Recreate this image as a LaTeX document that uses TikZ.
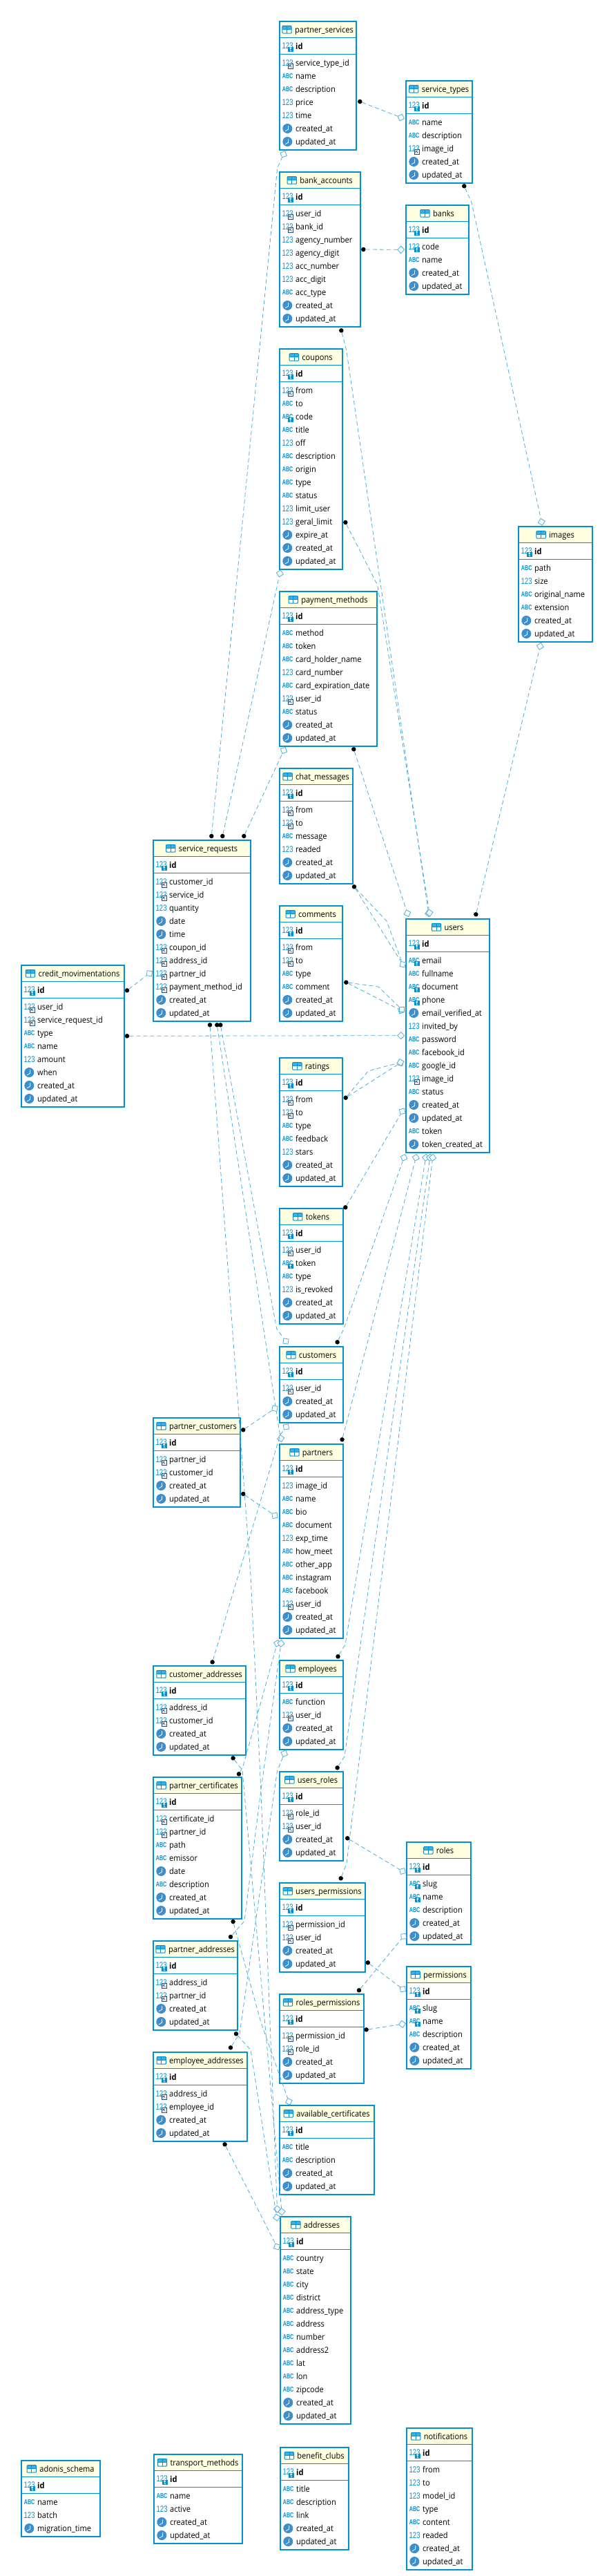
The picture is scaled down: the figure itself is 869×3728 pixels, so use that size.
\documentclass[tikz,border=0pt]{standalone}
\usepackage{fontspec}
\setmainfont[FakeStretch=0.92]{Open Sans}
\newfontfamily\glyphfont{Liberation Sans}
\usetikzlibrary{calc,shapes.geometric}
\catcode`\_=12

\definecolor{tableblue}{RGB}{0, 145, 208}
\definecolor{tablehead}{RGB}{255, 255, 225}
\definecolor{clockblue}{RGB}{60, 142, 204}
\definecolor{headblue}{RGB}{60, 176, 232}
\definecolor{refdark}{RGB}{42, 74, 120}
\definecolor{relblue}{RGB}{74, 174, 221}

\tikzset{
tableframe/.style={rectangle, draw=tableblue, line width=1.7pt, anchor=north west, inner sep=0pt, outer sep=0pt},
headbox/.style={rectangle, fill=tablehead, anchor=north west, inner sep=0pt, outer sep=0pt, minimum height=24.3pt},
idbox/.style={rectangle, anchor=north west, inner sep=0pt, outer sep=0pt, minimum height=24pt},
tablerule/.style={draw=tableblue, line width=1pt},
titletext/.style={anchor=base, inner sep=0pt, font=\fontsize{12}{14}\selectfont},
rowtext/.style={anchor=base west, inner sep=0pt, font=\fontsize{12}{14}\selectfont},
abcglyph/.style={anchor=base west, inner sep=0pt, xscale=.72, transform shape, text=tableblue, font=\glyphfont\bfseries\fontsize{10}{10}\selectfont},
numglyph/.style={anchor=base west, inner sep=0pt, xscale=.76, transform shape, text=tableblue, font=\glyphfont\fontsize{12.6}{12.6}\selectfont},
rel/.style={draw=relblue, line width=.8pt, dash pattern=on 6pt off 4pt},
fkdot/.style={circle, fill=black, inner sep=0pt, minimum size=6.5pt},
pkdiamond/.style={diamond, aspect=1, draw=relblue, fill=white, line width=.8pt, inner sep=0pt, minimum size=10.5pt}
}

% little pictures in front of a row, origin on the left edge and the baseline
\newcommand{\keybox}{\fill[tableblue] (13,-3.3) rectangle (20.5,3.5);
  \draw[white, line width=.7pt] (16.7,-1.6) circle (1) -- (16.7,2.4) -- (18,2.4);}
\newcommand{\refbox}{\draw[refdark, fill=white, line width=.7pt] (13.4,-3) rectangle (20,3.3);
  \draw[refdark, line width=.6pt] (15,-1.4) -- (18.4,1.8) (15,1.8) -- (15,-1.4) -- (18,-1.4);}
\newcommand{\rowicona}{\node[abcglyph] (\rowid_icon) at (4.7,-1.2) {ABC};}
\newcommand{\rowiconn}{\node[numglyph] (\rowid_icon) at (4.5,-.5) {123};}
\newcommand{\rowiconk}{\rowiconn\keybox}
\newcommand{\rowicons}{\rowicona\keybox}
\newcommand{\rowiconf}{\rowiconn\refbox}
\newcommand{\rowicont}{\fill[clockblue] (12.3,-4.7) circle (7);
  \draw[white, line width=.8pt] (13.8,-8.8) -- (13.4,-3.4) -- (9,-.9);}
\newcommand{\tableicon}{\fill[white] (-18,-10.2) rectangle (-4.7,.5);
  \fill[headblue] (-18,-10.2) rectangle (-4.7,-4.9);
  \draw[tableblue, line width=1pt, rounded corners=1pt] (-18,-10.2) rectangle (-4.7,.5);
  \draw[tableblue, line width=.8pt] (-18,-4.9) -- (-4.7,-4.9) (-11.3,-10.2) -- (-11.3,.5);}

% name, left, top, width, title, rows
\newcommand{\dbtable}[6]{
  \node[headbox, minimum width=#4pt] (#1_head) at (#2,#3) {};
  \node[idbox, minimum width=#4pt] (#1_idrow) at (#1_head.south west) {};
  \draw[tablerule] (#1_head.south west) -- (#1_head.south east);
  \draw[tablerule] (#1_idrow.south west) -- (#1_idrow.south east);
  \node[titletext] (#1_title) at (#2+#4/2+9,#3+17.7) {#5};
  \begin{scope}[shift={(#1_title.base west)}]\tableicon\end{scope}
  \def\rowid{#1_id}
  \begin{scope}[shift={(#2,#3+41.3)}]\rowiconk\end{scope}
  \node[rowtext, font=\fontsize{12}{14}\selectfont\bfseries] (#1_id) at (#2+24,#3+41.3) {id};
  \foreach \rowtype/\rowname [count=\rownum] in {#6} {
    \def\rowid{#1_\rownum}
    \begin{scope}[shift={(#2,#3+65.7+19*\rownum-19)}]\csname rowicon\rowtype\endcsname\end{scope}
    \node[rowtext] (#1_\rownum) at (#2+24,#3+65.7+19*\rownum-19) {\rowname};
    \xdef\rowtotal{\rownum}
  }
  \node[tableframe, minimum width=(#4-1.7)*1pt, minimum height=(53.3+19*\rowtotal)*1pt] (#1) at (#2+.85,#3+.85) {};
}
\newcommand{\fkmark}[2]{\node[fkdot] (#1) at (#2) {};}
% name, place, the point the line comes from
\newcommand{\pkmark}[3]{\path let \p1=($(#3)-(#2)$), \n1={atan2(\y1,\x1)} in node[pkdiamond, rotate=\n1] (#1) at (#2) {};}

\begin{document}
\begin{tikzpicture}[x=1pt, y=-1pt]
\useasboundingbox (0,0) rectangle (869,3728);

% Tables
\dbtable{partner_services}{404}{30}{113}{partner_services}{f/service_type_id,a/name,a/description,n/price,n/time,t/created_at,t/updated_at}
\dbtable{service_types}{587}{116}{98}{service_types}{a/name,a/description,f/image_id,t/created_at,t/updated_at}
\dbtable{bank_accounts}{404}{248}{119}{bank_accounts}{f/user_id,f/bank_id,n/agency_number,n/agency_digit,n/acc_number,n/acc_digit,a/acc_type,t/created_at,t/updated_at}
\dbtable{banks}{587}{296}{93}{banks}{k/code,a/name,t/created_at,t/updated_at}
\dbtable{coupons}{404}{504}{93}{coupons}{f/from,a/to,s/code,a/title,n/off,a/description,a/origin,a/type,a/status,n/limit_user,n/geral_limit,t/expire_at,t/created_at,t/updated_at}
\dbtable{payment_methods}{404}{855}{143}{payment_methods}{a/method,a/token,a/card_holder_name,n/card_number,a/card_expiration_date,f/user_id,a/status,t/created_at,t/updated_at}
\dbtable{images}{750}{761}{109}{images}{a/path,n/size,a/original_name,a/extension,t/created_at,t/updated_at}
\dbtable{chat_messages}{404}{1111}{108}{chat_messages}{f/from,f/to,a/message,n/readed,t/created_at,t/updated_at}
\dbtable{comments}{404}{1310}{93}{comments}{f/from,f/to,a/type,a/comment,t/created_at,t/updated_at}
\dbtable{users}{587}{1329}{123}{users}{s/email,a/fullname,s/document,s/phone,t/email_verified_at,n/invited_by,a/password,a/facebook_id,a/google_id,f/image_id,a/status,t/created_at,t/updated_at,a/token,t/token_created_at}
\dbtable{ratings}{404}{1530}{93}{ratings}{f/from,f/to,a/type,a/feedback,n/stars,t/created_at,t/updated_at}
\dbtable{tokens}{404}{1748}{94}{tokens}{f/user_id,s/token,a/type,n/is_revoked,t/created_at,t/updated_at}
\dbtable{service_requests}{221}{1215}{143}{service_requests}{f/customer_id,f/service_id,n/quantity,t/date,t/time,f/coupon_id,f/address_id,f/partner_id,f/payment_method_id,t/created_at,t/updated_at}
\dbtable{credit_movimentations}{30}{1396}{151}{credit_movimentations}{f/user_id,f/service_request_id,a/type,a/name,n/amount,t/when,t/created_at,t/updated_at}
\dbtable{customers}{404}{1948}{94}{customers}{f/user_id,t/created_at,t/updated_at}
\dbtable{partners}{404}{2089}{94}{partners}{n/image_id,a/name,a/bio,a/document,n/exp_time,a/how_meet,a/other_app,a/instagram,a/facebook,f/user_id,t/created_at,t/updated_at}
\dbtable{partner_customers}{221}{2051}{128}{partner_customers}{f/partner_id,f/customer_id,t/created_at,t/updated_at}
\dbtable{customer_addresses}{221}{2410}{136}{customer_addresses}{f/address_id,f/customer_id,t/created_at,t/updated_at}
\dbtable{partner_certificates}{221}{2571}{130}{partner_certificates}{f/certificate_id,f/partner_id,a/path,a/emissor,t/date,a/description,t/created_at,t/updated_at}
\dbtable{employees}{404}{2402}{94}{employees}{a/function,f/user_id,t/created_at,t/updated_at}
\dbtable{users_roles}{404}{2563}{94}{users_roles}{f/role_id,f/user_id,t/created_at,t/updated_at}
\dbtable{users_permissions}{404}{2724}{126}{users_permissions}{f/permission_id,f/user_id,t/created_at,t/updated_at}
\dbtable{roles}{588}{2665}{95}{roles}{s/slug,s/name,a/description,t/created_at,t/updated_at}
\dbtable{permissions}{588}{2845}{95}{permissions}{s/slug,s/name,a/description,t/created_at,t/updated_at}
\dbtable{partner_addresses}{221}{2808}{124}{partner_addresses}{f/address_id,f/partner_id,t/created_at,t/updated_at}
\dbtable{employee_addresses}{221}{2969}{138}{employee_addresses}{f/address_id,f/employee_id,t/created_at,t/updated_at}
\dbtable{roles_permissions}{404}{2885}{124}{roles_permissions}{f/permission_id,f/role_id,t/created_at,t/updated_at}
\dbtable{available_certificates}{404}{3046}{139}{available_certificates}{a/title,a/description,t/created_at,t/updated_at}
\dbtable{addresses}{405}{3207}{104}{addresses}{a/country,a/state,a/city,a/district,a/address_type,a/address,a/number,a/address2,a/lat,a/lon,a/zipcode,t/created_at,t/updated_at}
\dbtable{adonis_schema}{30}{3560}{116}{adonis_schema}{a/name,n/batch,t/migration_time}
\dbtable{transport_methods}{222}{3551}{130}{transport_methods}{a/name,n/active,t/created_at,t/updated_at}
\dbtable{benefit_clubs}{405}{3541}{101}{benefit_clubs}{a/title,a/description,a/link,t/created_at,t/updated_at}
\dbtable{notifications}{588}{3513}{97}{notifications}{n/from,n/to,n/model_id,a/type,a/content,n/readed,t/created_at,t/updated_at}

% Relations
\fkmark{ps_fk}{521.3,147} \pkmark{st_pk}{580.7,170}{521.3,147}
\draw[rel] (ps_fk) -- (st_pk);
\fkmark{sr_ps_fk}{306.3,1210} \pkmark{ps_pk}{410.7,223.3}{401.7,243}
\draw[rel] (sr_ps_fk) -- (401.7,243) -- (ps_pk);
\fkmark{sr_cp_fk}{322.3,1210} \pkmark{cp_pk}{405.3,830}{322.3,1210}
\draw[rel] (sr_cp_fk) -- (cp_pk);
\fkmark{sr_pm_fk}{353.3,1210} \pkmark{pm_pk}{411,1086}{353.3,1210}
\draw[rel] (sr_pm_fk) -- (pm_pk);
\fkmark{st_fk}{672.3,269.3} \pkmark{img_st_pk}{784.3,755.3}{683,293}
\draw[rel] (st_fk) -- (683,293) -- (img_st_pk);
\fkmark{ba_fk}{526.3,361} \pkmark{bk_pk}{580.7,361.3}{526.3,361}
\draw[rel] (ba_fk) -- (bk_pk);
\fkmark{ba_us_fk}{494.3,478.3} \pkmark{us_ba_pk}{620.7,1321.7}{501.7,506.7}
\draw[rel] (ba_us_fk) -- (501.7,506.7) -- (us_ba_pk);
\fkmark{cp_us_fk}{500.3,756} \pkmark{us_cp_pk}{622,1321}{546.7,846.7}
\draw[rel] (cp_us_fk) -- (546.7,846.7) -- (us_cp_pk);
\fkmark{pm_us_fk}{512.3,1084.3} \pkmark{us_pm_pk}{590,1321.7}{512.3,1084.3}
\draw[rel] (pm_us_fk) -- (us_pm_pk);
\fkmark{us_img_fk}{689.3,1323.3} \pkmark{img_pk}{782.3,935.3}{689.3,1323.3}
\draw[rel] (us_img_fk) -- (img_pk);
\fkmark{cm_fk}{513,1283.3} \pkmark{us_cm_pk}{583.3,1395.7}{513,1283.3}
\draw[rel] (cm_fk) -- (us_cm_pk);
\draw[rel] (cm_fk) -- (560,1333) -- (us_cm_pk);
\fkmark{ct_fk}{501.3,1421.7} \pkmark{us_ct_pk}{581,1462.3}{501.3,1421.7}
\draw[rel] (ct_fk) -- (us_ct_pk);
\pkmark{us_ct2_pk}{582,1461}{548,1428}
\draw[rel] (ct_fk) -- (548,1428) -- (us_ct2_pk);
\fkmark{cr_us_fk}{184,1499.3} \pkmark{us_cr_pk}{580.7,1498.7}{184,1499.3}
\draw[rel] (cr_us_fk) -- (us_cr_pk);
\fkmark{cr_sr_fk}{184,1433.3} \pkmark{sr_pk}{216.3,1408.7}{184,1433.3}
\draw[rel] (cr_sr_fk) -- (sr_pk);
\fkmark{rt_fk}{500.7,1588.7} \pkmark{us_rt_pk}{580,1538.3}{500.7,1588.7}
\draw[rel] (rt_fk) -- (us_rt_pk);
\pkmark{us_rt2_pk}{580,1537.5}{533.3,1550}
\draw[rel] (rt_fk) -- (533.3,1550) -- (us_rt2_pk);
\fkmark{tk_fk}{500.3,1747.3} \pkmark{us_tk_pk}{582.7,1608.3}{500.3,1747.3}
\draw[rel] (tk_fk) -- (us_tk_pk);
\fkmark{cu_us_fk}{488.6,1942.3} \pkmark{us_cu_pk}{585,1675.3}{498,1923}
\draw[rel] (cu_us_fk) -- (498,1923) -- (us_cu_pk);
\fkmark{pa_us_fk}{495.5,2083.3} \pkmark{us_pa_pk}{602.3,1675.3}{495.5,2083.3}
\draw[rel] (pa_us_fk) -- (us_pa_pk);
\fkmark{em_us_fk}{489.5,2397.3} \pkmark{us_em_pk}{616.7,1675.3}{500,2380}
\draw[rel] (em_us_fk) -- (500,2380) -- (us_em_pk);
\fkmark{ur_us_fk}{488.6,2558.3} \pkmark{us_ur_pk}{622.7,1675.3}{499,2541.7}
\draw[rel] (ur_us_fk) -- (499,2541.7) -- (us_ur_pk);
\fkmark{up_us_fk}{493.7,2718.3} \pkmark{us_up_pk}{626.7,1675.3}{502,2696.7}
\draw[rel] (up_us_fk) -- (502,2696.7) -- (us_up_pk);
\fkmark{sr_cu_fk}{319.3,1483.3} \pkmark{cu_sr_pk}{414,1941}{400.7,1923}
\draw[rel] (sr_cu_fk) -- (400.7,1923) -- (cu_sr_pk);
\fkmark{sr_pa_fk}{314.3,1483.3} \pkmark{pa_sr_pk}{406.7,2081.7}{403.7,2066}
\draw[rel] (sr_pa_fk) -- (403.7,2066) -- (pa_sr_pk);
\fkmark{sr_ad_fk}{304,1483.3} \pkmark{ad_sr_pk}{401.5,3197}{378,2593}
\draw[rel] (sr_ad_fk) -- (363,2280) -- (378,2593) -- (ad_sr_pk);
\fkmark{ca_cu_fk}{307.6,2405.3} \pkmark{cu_ca_pk}{414.4,2065}{405.8,2076.7}
\draw[rel] (ca_cu_fk) -- (405.8,2076.7) -- (cu_ca_pk);
\fkmark{pc_cu_fk}{352.2,2069.3} \pkmark{cu_pc_pk}{398,2038.3}{352.2,2069.3}
\draw[rel] (pc_cu_fk) -- (cu_pc_pk);
\fkmark{pc_pa_fk}{352.2,2162} \pkmark{pa_pc_pk}{398,2193.3}{352.2,2162}
\draw[rel] (pc_pa_fk) -- (pa_pc_pk);
\fkmark{ur_ro_fk}{503.2,2660.3} \pkmark{ro_ur_pk}{583,2708}{503.2,2660.3}
\draw[rel] (ur_ro_fk) -- (ro_ur_pk);
\fkmark{up_pe_fk}{532.8,2840.3} \pkmark{pe_up_pk}{583.4,2878.7}{532.8,2840.3}
\draw[rel] (up_pe_fk) -- (pe_up_pk);
\fkmark{rp_ro_fk}{520,2880.3} \pkmark{ro_rp_pk}{584.6,2802.3}{520,2880.3}
\draw[rel] (rp_ro_fk) -- (ro_rp_pk);
\fkmark{rp_pe_fk}{530.6,2937.3} \pkmark{pe_rp_pk}{582.5,2929.3}{530.6,2937.3}
\draw[rel] (rp_pe_fk) -- (pe_rp_pk);
\fkmark{pt_pa_fk}{346,2567.3} \pkmark{pa_pt_pk}{401.5,2378.3}{352,2556}
\draw[rel] (pt_pa_fk) -- (352,2556) -- (pa_pt_pk);
\fkmark{pd_pa_fk}{334,2803} \pkmark{pa_pd_pk}{407,2378.3}{376.7,2600}
\draw[rel] (pd_pa_fk) -- (354,2780) -- (376.7,2600) -- (pa_pd_pk);
\fkmark{ed_em_fk}{334,2963.3} \pkmark{em_ed_pk}{411.8,2537.7}{401.5,2563}
\draw[rel] (ed_em_fk) -- (347,2943) -- (401.5,2563) -- (em_ed_pk);
\fkmark{pt_ac_fk}{337.6,2781} \pkmark{ac_pk}{418.3,3041.3}{378,2927}
\draw[rel] (pt_ac_fk) -- (378,2927) -- (ac_pk);
\fkmark{pd_ad_fk}{342,2943.3} \pkmark{ad_pd_pk}{400.7,3209}{363,2966.7}
\draw[rel] (pd_ad_fk) -- (363,2966.7) -- (ad_pd_pk);
\fkmark{ca_ad_fk}{337.6,2544.3} \pkmark{ad_ca_pk}{408,3200.7}{351,2561.7}
\draw[rel] (ca_ad_fk) -- (351,2561.7) -- (ad_ca_pk);
\fkmark{ed_ad_fk}{325.6,3103.3} \pkmark{ad_ed_pk}{401,3251.4}{325.6,3103.3}
\draw[rel] (ed_ad_fk) -- (ad_ed_pk);

\end{tikzpicture}
\end{document}
